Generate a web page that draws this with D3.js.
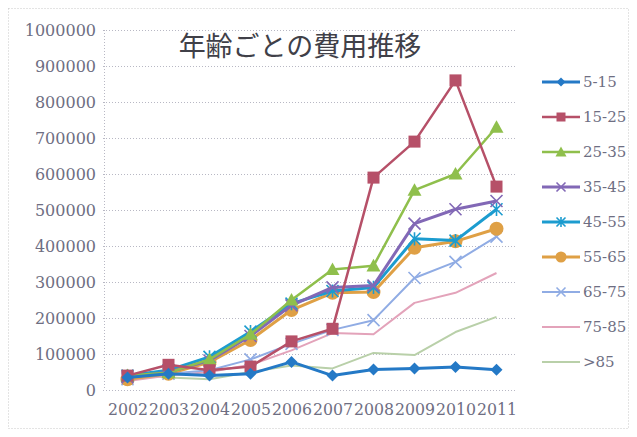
<!DOCTYPE html>
<html>
<head>
<meta charset="utf-8">
<script src="https://cdn.jsdelivr.net/npm/d3@7"></script>
<style>
  html, body { margin: 0; padding: 0; background: #fff; }
  svg { display: block; }
</style>
</head>
<body>
<svg id="chart" width="637" height="437"></svg>
<script>
// Yearly cost by age group
const years = ["2002","2003","2004","2005","2006","2007","2008","2009","2010","2011"];
const seriesNames = ["5-15","15-25","25-35","35-45","45-55","55-65","65-75","75-85",">85"];

const v5_15   = [35000, 45000, 40000, 45000, 78000, 40000, 57000, 60000, 64000, 56000];
const v15_25  = [40000, 70000, 55000, 65000, 135000, 170000, 590000, 690000, 860000, 565000];
const v25_35  = [40000, 48000, 85000, 155000, 250000, 335000, 345000, 555000, 600000, 730000];
const v35_45  = [35000, 50000, 82000, 150000, 235000, 285000, 290000, 462000, 502000, 525000];
const v45_55  = [40000, 55000, 92000, 162000, 240000, 275000, 285000, 420000, 415000, 502000];
const v55_65  = [30000, 45000, 77000, 139000, 222000, 270000, 272000, 395000, 413000, 448000];
const v65_75  = [30000, 45000, 55000, 85000, 128000, 167000, 194000, 311000, 356000, 426000];
const v75_85  = [25000, 40000, 50000, 70000, 110000, 158000, 155000, 242000, 270000, 325000];
const v85     = [45000, 35000, 30000, 50000, 68000, 60000, 103000, 97000, 161000, 203000];

const yTicks = [0,100000,200000,300000,400000,500000,600000,700000,800000,900000,1000000];

const seriesValues = [v5_15, v15_25, v25_35, v35_45, v45_55, v55_65, v65_75, v75_85, v85];
const colors  = ["#2479c6","#b65068","#8fbf4c","#8268b6","#1c9ccf","#dfa045","#90ace4","#e3a3ba","#b9d0a9"];
const markers = ["diamond","square","triangle","x","star","circle","x","none","none"];
const widths  = [3, 2.5, 2.5, 3, 3, 3, 2, 2, 2];

const svg = d3.select("#chart");
const W = 637, H = 437;

// outer frame
svg.append("rect")
  .attr("x", 8.5).attr("y", 8.5).attr("width", W - 17).attr("height", H - 17)
  .attr("fill", "#fff").attr("stroke", "#c8c8c8").attr("stroke-dasharray", "1,2");

const plot = { left: 107, right: 517, top: 30, bottom: 390 };

const x = d3.scalePoint().domain(years).range([plot.left, plot.right]).padding(0.5);
const y = d3.scaleLinear().domain([0, 1000000]).range([plot.bottom, plot.top]);

// gridlines
svg.append("g").selectAll("line").data(yTicks).join("line")
  .attr("x1", plot.left - 4).attr("x2", plot.right)
  .attr("y1", d => y(d) + 0.5).attr("y2", d => y(d) + 0.5)
  .attr("stroke", "#b8b8c4").attr("stroke-width", 1).attr("stroke-dasharray", "1,2");

// y axis line
svg.append("line")
  .attr("x1", plot.left - 2.5).attr("x2", plot.left - 2.5)
  .attr("y1", plot.top).attr("y2", plot.bottom)
  .attr("stroke", "#b8b8c4").attr("stroke-dasharray", "1,2");

const serif = "'DejaVu Serif', serif";

// y axis labels
const yAxis = d3.axisLeft(y).tickValues(yTicks).tickFormat(d3.format("d")).tickSize(0).tickPadding(0);
const gy = svg.append("g").attr("transform", `translate(${plot.left - 11},0)`).call(yAxis);
gy.select(".domain").remove();
gy.attr("font-family", serif).attr("font-size", 16);
gy.selectAll("text").attr("fill", "#6e6e82");

// x axis labels
const xAxis = d3.axisBottom(x).tickSize(0).tickPadding(0);
const gx = svg.append("g").attr("transform", `translate(0,${plot.bottom + 14})`).call(xAxis);
gx.select(".domain").remove();
gx.attr("font-family", serif).attr("font-size", 16);
gx.selectAll("text").attr("fill", "#6e6e82")
  .attr("textLength", 40).attr("lengthAdjust", "spacingAndGlyphs")
  .attr("x", -20).attr("text-anchor", "start");

// title
svg.append("text")
  .attr("x", 300).attr("y", 56)
  .attr("text-anchor", "middle")
  .attr("font-family", "'Noto Sans CJK JP', sans-serif")
  .attr("font-size", 27).attr("fill", "#404048")
  .text("年齢ごとの費用推移");

function drawMarker(g, type, cx, cy, color, size) {
  const s = size;
  if (type === "diamond") {
    g.append("path").attr("d", `M${cx},${cy - s}L${cx + s},${cy}L${cx},${cy + s}L${cx - s},${cy}Z`).attr("fill", color);
  } else if (type === "square") {
    g.append("rect").attr("x", cx - s).attr("y", cy - s).attr("width", 2 * s).attr("height", 2 * s).attr("fill", color);
  } else if (type === "triangle") {
    g.append("path").attr("d", `M${cx},${cy - s}L${cx + s},${cy + s * 0.8}L${cx - s},${cy + s * 0.8}Z`).attr("fill", color);
  } else if (type === "circle") {
    g.append("circle").attr("cx", cx).attr("cy", cy).attr("r", s).attr("fill", color);
  } else if (type === "x") {
    g.append("path").attr("d", `M${cx - s},${cy - s}L${cx + s},${cy + s}M${cx + s},${cy - s}L${cx - s},${cy + s}`)
      .attr("stroke", color).attr("stroke-width", 1.6).attr("fill", "none");
  } else if (type === "star") {
    g.append("path").attr("d", `M${cx - s},${cy - s}L${cx + s},${cy + s}M${cx + s},${cy - s}L${cx - s},${cy + s}M${cx},${cy - s * 1.1}L${cx},${cy + s * 1.1}`)
      .attr("stroke", color).attr("stroke-width", 1.6).attr("fill", "none");
  }
}

const markerSize = { diamond: 6, square: 6, triangle: 7, x: 6, star: 6, circle: 7, none: 0 };

const line = d3.line().x((d, i) => x(years[i])).y(d => y(d));

// draw back-to-front so the first series sits on top
const order = d3.range(seriesNames.length).reverse();
order.forEach(k => {
  const g = svg.append("g");
  g.append("path").datum(seriesValues[k])
    .attr("d", line)
    .attr("fill", "none").attr("stroke", colors[k]).attr("stroke-width", widths[k])
    .attr("stroke-linejoin", "round");
  if (markers[k] !== "none") {
    seriesValues[k].forEach((v, i) => drawMarker(g, markers[k], x(years[i]), y(v), colors[k], markerSize[markers[k]]));
  }
});

// legend
const legend = svg.append("g");
seriesNames.forEach((name, k) => {
  const ly = 82 + k * 35;
  const g = legend.append("g");
  g.append("line").attr("x1", 542).attr("x2", 580).attr("y1", ly).attr("y2", ly)
    .attr("stroke", colors[k]).attr("stroke-width", widths[k]);
  if (markers[k] !== "none") drawMarker(g, markers[k], 561, ly, colors[k], markerSize[markers[k]] - 1.5);
  g.append("text").attr("x", 583).attr("y", ly + 5)
    .attr("font-family", serif).attr("font-size", 15).attr("fill", "#6e6e82")
    .text(name);
});
</script>
</body>
</html>
